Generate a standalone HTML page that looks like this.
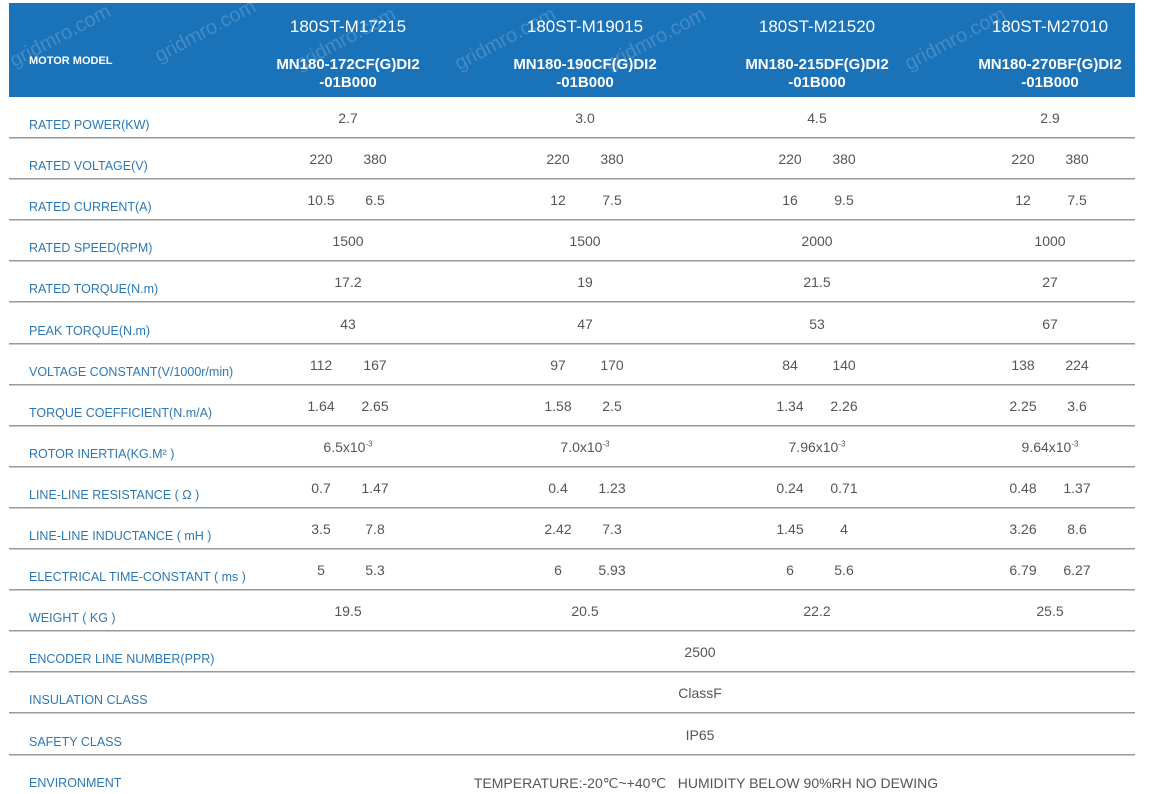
<!DOCTYPE html>
<html><head><style>
body{margin:0;width:1157px;height:794px;background:#fff;font-family:"Liberation Sans",sans-serif;position:relative;overflow:hidden}
.hd{position:absolute;left:9px;top:3px;width:1126px;height:94px;background:#1a72b9}
.t{position:absolute;white-space:nowrap;transform:translateX(-50%);text-align:center}
.h1{color:#fff;font-size:17px;top:17px}
.h2{color:#fff;font-size:15px;font-weight:bold;top:56px;line-height:18px}
.wm{position:absolute;color:rgba(255,255,255,0.18);font-size:20px;transform:rotate(-28deg);white-space:nowrap}
.ln{position:absolute;left:9px;width:1126px;height:1px;background:#999;border-bottom:1px solid #ccc}
.lb{position:absolute;left:29px;color:#2c78b6;font-size:12.5px;white-space:nowrap}
.v{position:absolute;color:#555;font-size:14px;white-space:nowrap;transform:translateX(-50%)}
sup{font-size:8px}
</style></head><body>
<div class="hd"></div>
<div class="wm" style="left:5px;top:25px">gridmro.com</div>
<div class="wm" style="left:150px;top:20px">gridmro.com</div>
<div class="wm" style="left:290px;top:28px">gridmro.com</div>
<div class="wm" style="left:450px;top:28px">gridmro.com</div>
<div class="wm" style="left:600px;top:28px">gridmro.com</div>
<div class="wm" style="left:900px;top:28px">gridmro.com</div>
<div style="position:absolute;left:29px;top:55px;color:#fff;font-size:11px;font-weight:bold">MOTOR MODEL</div>
<div class="t h1" style="left:348px">180ST-M17215</div>
<div class="t h1" style="left:585px">180ST-M19015</div>
<div class="t h1" style="left:817px">180ST-M21520</div>
<div class="t h1" style="left:1050px">180ST-M27010</div>
<div class="t h2" style="left:348px">MN180-172CF(G)DI2<br>-01B000</div>
<div class="t h2" style="left:585px">MN180-190CF(G)DI2<br>-01B000</div>
<div class="t h2" style="left:817px">MN180-215DF(G)DI2<br>-01B000</div>
<div class="t h2" style="left:1050px">MN180-270BF(G)DI2<br>-01B000</div>
<div id="rows"></div>
<script>
var rows=[
["RATED POWER(KW)",["2.7","3.0","4.5","2.9"]],
["RATED VOLTAGE(V)",[["220","380"],["220","380"],["220","380"],["220","380"]]],
["RATED CURRENT(A)",[["10.5","6.5"],["12","7.5"],["16","9.5"],["12","7.5"]]],
["RATED SPEED(RPM)",["1500","1500","2000","1000"]],
["RATED TORQUE(N.m)",["17.2","19","21.5","27"]],
["PEAK TORQUE(N.m)",["43","47","53","67"]],
["VOLTAGE CONSTANT(V/1000r/min)",[["112","167"],["97","170"],["84","140"],["138","224"]]],
["TORQUE COEFFICIENT(N.m/A)",[["1.64","2.65"],["1.58","2.5"],["1.34","2.26"],["2.25","3.6"]]],
["ROTOR INERTIA(KG.M² )",["6.5x10<sup>-3</sup>","7.0x10<sup>-3</sup>","7.96x10<sup>-3</sup>","9.64x10<sup>-3</sup>"]],
["LINE-LINE RESISTANCE ( Ω )",[["0.7","1.47"],["0.4","1.23"],["0.24","0.71"],["0.48","1.37"]]],
["LINE-LINE INDUCTANCE ( mH )",[["3.5","7.8"],["2.42","7.3"],["1.45","4"],["3.26","8.6"]]],
["ELECTRICAL TIME-CONSTANT ( ms )",[["5","5.3"],["6","5.93"],["6","5.6"],["6.79","6.27"]]],
["WEIGHT ( KG )",["19.5","20.5","22.2","25.5"]],
["ENCODER LINE NUMBER(PPR)","2500"],
["INSULATION CLASS","ClassF"],
["SAFETY CLASS","IP65"],
["ENVIRONMENT","TEMPERATURE:-20℃~+40℃&nbsp;&nbsp; HUMIDITY BELOW 90%RH NO DEWING"]];
var cx=[348,585,817,1050],h="";
rows.forEach(function(r,i){
 var top=97+i*41.1, vy=top+13, ly=top+21;
 h+='<div class="lb" style="top:'+ly+'px">'+r[0]+'</div>';
 if(typeof r[1]=="string"){var x=i==16?706:700;h+='<div class="v" style="left:'+x+'px;top:'+(vy+(i==16?7:0))+'px">'+r[1]+'</div>';}
 else r[1].forEach(function(v,j){
  if(typeof v=="string")h+='<div class="v" style="left:'+cx[j]+'px;top:'+vy+'px">'+v+'</div>';
  else{h+='<div class="v" style="left:'+(cx[j]-27)+'px;top:'+vy+'px">'+v[0]+'</div><div class="v" style="left:'+(cx[j]+27)+'px;top:'+vy+'px">'+v[1]+'</div>';}
 });
 if(i<16)h+='<div class="ln" style="top:'+(top+40)+'px"></div>';
});
document.getElementById("rows").innerHTML=h;
</script>
</body></html>
